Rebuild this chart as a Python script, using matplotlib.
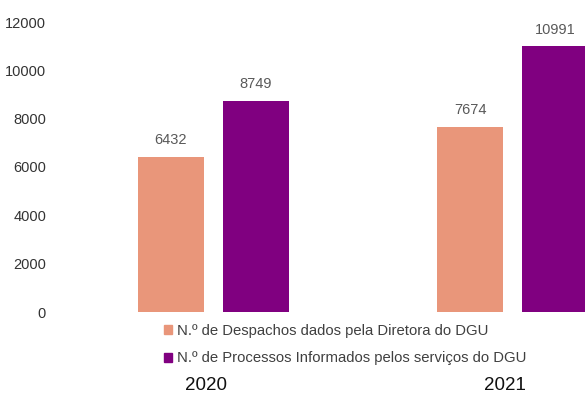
import matplotlib
matplotlib.use("Agg")
import matplotlib.pyplot as plt
import matplotlib.patches as patches
import numpy as np

plt.rcParams['font.family'] = ['Liberation Sans', 'DejaVu Sans']

years = ['2020', '2021']
despachos = [6432, 7674]
processos = [8749, 10991]
labels = ['N.º de Despachos dados pela Diretora do DGU',
          'N.º de Processos Informados pelos serviços do DGU']

salmon = '#E9967A'
purple = '#800080'

fig = plt.figure(figsize=(5.85, 3.94), dpi=100)
ax = fig.add_axes([60 / 585, 82 / 394, 525 / 585, 290 / 394])

x = np.arange(len(years))
w = 0.22
off = 0.142
b1 = ax.bar(x - off, despachos, w, color=salmon)
b2 = ax.bar(x + off, processos, w, color=purple)

for bars in (b1, b2):
    for rect in bars:
        h = rect.get_height()
        ax.annotate(f"{h:.0f}", (rect.get_x() + rect.get_width() / 2, h),
                    xytext=(0, 7), textcoords='offset points',
                    ha='center', va='bottom', fontsize=10.5, color='#595959')

ax.set_xlim(-0.513, 1.242)
ax.set_ylim(0, 12000)
ax.set_yticks(range(0, 12001, 2000))
ax.tick_params(axis='y', length=0, pad=10, labelsize=10.5, labelcolor='#333333')
ax.set_xticks([])
for s in ax.spines.values():
    s.set_visible(False)

# year labels below the legend
for xi, yr in zip(x, years):
    ax.text(xi - 0.025, -0.255, yr, transform=ax.get_xaxis_transform(),
            ha='center', va='center', fontsize=13.5, color='#111111')

h1 = patches.Rectangle((0, 0), 1, 1, color=salmon)
h2 = patches.Rectangle((0, 0), 1, 1, color=purple)
fig.legend([h1, h2], labels, loc='upper left', bbox_to_anchor=(164 / 585, 1 - 324 / 394),
           frameon=False, fontsize=10.7, labelcolor='#404040',
           handlelength=0.55, handleheight=0.55, handletextpad=0.3,
           labelspacing=0.9, borderpad=0, borderaxespad=0)

fig.savefig('out.png', dpi=100)
